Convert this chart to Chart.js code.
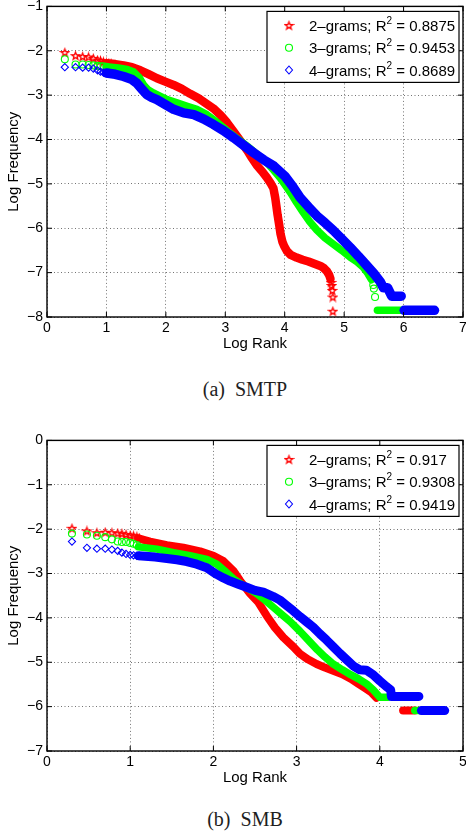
<!DOCTYPE html>
<html>
<head>
<meta charset="utf-8">
<script src="https://cdn.jsdelivr.net/npm/chart.js@4.4.0/dist/chart.umd.min.js"></script>
<style>
  html, body { margin: 0; padding: 0; background: #fff; overflow: hidden; width: 466px; height: 835px; }
  canvas { position: absolute; left: 0; }
  .cap { position: absolute; left: 0; width: 490px; text-align: center; font: 20px "Liberation Serif", serif; line-height: 20px; color: #1e1e1e; white-space: pre; }
</style>
</head>
<body>
<canvas id="smtp" width="472" height="362" style="top:-6px"></canvas>
<div class="cap" style="top:379px">(a)  SMTP</div>
<canvas id="smb" width="472" height="362" style="top:428px"></canvas>
<div class="cap" style="top:809px">(b)  SMB</div>
<script>
// n-gram series names and fit quality shown in the legends
const seriesNames = ['2\u2013grams', '3\u2013grams', '4\u2013grams'];
const smtpR2 = ['0.8875', '0.9453', '0.8689'];
const smbR2 = ['0.917', '0.9308', '0.9419'];

// (a) SMTP  -- [log rank, log frequency]
const smtp2Marks = [[0.30,-2.04],[0.48,-2.11],[0.60,-2.13],[0.70,-2.14],[0.78,-2.17],[0.85,-2.21],[0.90,-2.22],[0.95,-2.25],[1.00,-2.27],[1.04,-2.28],[1.08,-2.29]];
const smtp2Band = [[1.00,-2.28],[1.15,-2.30],[1.29,-2.33],[1.43,-2.37],[1.57,-2.44],[1.70,-2.52],[1.85,-2.62],[2.00,-2.70],[2.13,-2.77],[2.27,-2.86],[2.41,-2.97],[2.55,-3.07],[2.69,-3.20],[2.80,-3.30],[2.92,-3.45],[3.03,-3.62],[3.14,-3.82],[3.25,-4.02],[3.37,-4.25],[3.45,-4.42],[3.53,-4.58],[3.62,-4.72],[3.70,-4.86],[3.77,-5.00],[3.81,-5.10],[3.84,-5.31],[3.86,-5.50],[3.88,-5.70],[3.91,-5.95],[3.93,-6.13],[3.96,-6.30],[3.99,-6.40],[4.04,-6.52],[4.10,-6.60],[4.20,-6.66],[4.30,-6.71],[4.40,-6.75],[4.50,-6.80],[4.60,-6.85],[4.66,-6.90],[4.71,-6.97],[4.75,-7.06],[4.77,-7.14]];
const smtp2Tail = [[4.78,-7.22],[4.79,-7.29],[4.80,-7.40],[4.81,-7.55],[4.81,-7.87]];
const smtp3Marks = [[0.30,-2.19],[0.48,-2.31],[0.60,-2.31],[0.70,-2.32],[0.78,-2.33],[0.85,-2.34],[0.90,-2.35],[0.95,-2.35],[1.00,-2.36]];
const smtp3Band = [[1.00,-2.36],[1.20,-2.39],[1.35,-2.42],[1.46,-2.48],[1.55,-2.60],[1.63,-2.78],[1.70,-2.88],[1.79,-2.95],[1.90,-3.02],[2.02,-3.10],[2.20,-3.18],[2.36,-3.25],[2.52,-3.32],[2.69,-3.44],[2.85,-3.60],[3.03,-3.80],[3.20,-3.98],[3.37,-4.15],[3.55,-4.35],[3.70,-4.52],[3.82,-4.70],[3.92,-4.86],[4.00,-5.01],[4.10,-5.20],[4.20,-5.42],[4.30,-5.62],[4.42,-5.85],[4.54,-6.04],[4.68,-6.22],[4.82,-6.36],[4.96,-6.50],[5.10,-6.65],[5.22,-6.76],[5.32,-6.88],[5.40,-7.02],[5.46,-7.16]];
const smtp3Tail = [[5.49,-7.28],[5.50,-7.36],[5.52,-7.55]];
const smtp3Floor = [[5.56,-7.85],[6.00,-7.85]];
const smtp4Marks = [[0.30,-2.37],[0.48,-2.37],[0.60,-2.38],[0.70,-2.38],[0.78,-2.40],[0.85,-2.44],[0.90,-2.47],[0.95,-2.49],[1.00,-2.50],[1.04,-2.50]];
const smtp4Band = [[1.00,-2.50],[1.15,-2.53],[1.29,-2.58],[1.42,-2.64],[1.51,-2.73],[1.60,-2.87],[1.68,-2.99],[1.76,-3.05],[1.85,-3.10],[2.00,-3.22],[2.13,-3.32],[2.30,-3.40],[2.47,-3.44],[2.64,-3.54],[2.80,-3.66],[2.97,-3.80],[3.14,-3.96],[3.30,-4.12],[3.48,-4.30],[3.65,-4.46],[3.82,-4.60],[4.00,-4.82],[4.13,-5.05],[4.26,-5.31],[4.40,-5.52],[4.54,-5.72],[4.68,-5.88],[4.82,-6.05],[4.96,-6.24],[5.10,-6.43],[5.24,-6.63],[5.38,-6.84],[5.50,-7.02],[5.61,-7.21],[5.66,-7.34],[5.73,-7.34],[5.80,-7.53],[5.96,-7.53]];
const smtp4Floor = [[6.01,-7.85],[6.52,-7.85]];

// (b) SMB
const smb2Marks = [[0.30,-1.98],[0.48,-2.04],[0.60,-2.08],[0.70,-2.07],[0.78,-2.08],[0.85,-2.09],[0.90,-2.10],[0.95,-2.12],[1.00,-2.14],[1.04,-2.15],[1.08,-2.17],[1.11,-2.20]];
const smb2Band = [[1.10,-2.21],[1.24,-2.28],[1.44,-2.36],[1.64,-2.42],[1.84,-2.50],[2.00,-2.60],[2.12,-2.72],[2.24,-2.94],[2.32,-3.16],[2.44,-3.45],[2.54,-3.65],[2.64,-3.95],[2.74,-4.22],[2.84,-4.44],[2.96,-4.65],[3.04,-4.81],[3.14,-4.94],[3.24,-5.04],[3.34,-5.12],[3.44,-5.19],[3.55,-5.27],[3.65,-5.37],[3.74,-5.48],[3.82,-5.58],[3.90,-5.68],[3.96,-5.80]];
const smb2Floor = [[4.28,-6.09],[4.42,-6.09]];
const smb3Marks = [[0.30,-2.10],[0.48,-2.12],[0.60,-2.15],[0.70,-2.18],[0.78,-2.23],[0.85,-2.28],[0.90,-2.29],[0.95,-2.29],[1.00,-2.31],[1.04,-2.33],[1.08,-2.36]];
const smb3Band = [[1.10,-2.40],[1.32,-2.45],[1.52,-2.53],[1.72,-2.60],[1.92,-2.68],[2.04,-2.79],[2.16,-2.98],[2.24,-3.12],[2.32,-3.22],[2.42,-3.34],[2.52,-3.45],[2.62,-3.60],[2.72,-3.76],[2.82,-3.92],[2.92,-4.08],[3.04,-4.30],[3.14,-4.50],[3.25,-4.72],[3.34,-4.88],[3.44,-5.04],[3.55,-5.17],[3.65,-5.28],[3.75,-5.38],[3.85,-5.50],[3.92,-5.62],[4.00,-5.79],[4.10,-5.79]];
const smb3Floor = [[4.42,-6.09],[4.50,-6.09]];
const smb4Marks = [[0.30,-2.28],[0.48,-2.42],[0.60,-2.44],[0.70,-2.44],[0.78,-2.46],[0.85,-2.49],[0.90,-2.53],[0.95,-2.56],[1.00,-2.58],[1.04,-2.59],[1.08,-2.60],[1.11,-2.60]];
const smb4Band = [[1.10,-2.60],[1.30,-2.63],[1.44,-2.66],[1.56,-2.69],[1.68,-2.73],[1.80,-2.79],[1.92,-2.87],[2.04,-3.02],[2.12,-3.10],[2.20,-3.17],[2.30,-3.24],[2.40,-3.31],[2.50,-3.38],[2.60,-3.42],[2.72,-3.52],[2.80,-3.60],[2.88,-3.72],[2.96,-3.84],[3.04,-3.97],[3.12,-4.09],[3.20,-4.21],[3.28,-4.36],[3.36,-4.50],[3.44,-4.65],[3.52,-4.80],[3.60,-4.94],[3.68,-5.08],[3.76,-5.17],[3.84,-5.18],[3.92,-5.28],[4.00,-5.42],[4.08,-5.55],[4.13,-5.62],[4.14,-5.77],[4.47,-5.77]];
const smb4Floor = [[4.50,-6.09],[4.78,-6.09]];

const RED = '#ff0000', GREEN = '#00ff00', BLUE = '#0000ff';

Chart.defaults.font.family = '"Liberation Sans", Arial, sans-serif';
Chart.defaults.color = '#000';

// matlab style pentagram marker
function starPath(ctx, cx, cy, R) {
  ctx.beginPath();
  for (let i = 0; i < 10; i++) {
    const a = -Math.PI / 2 + i * Math.PI / 5;
    const rr = i % 2 ? R * 0.42 : R;
    const px = cx + rr * Math.cos(a), py = cy + rr * Math.sin(a);
    if (i) ctx.lineTo(px, py); else ctx.moveTo(px, py);
  }
  ctx.closePath();
}
const starImg = document.createElement('canvas');
starImg.width = starImg.height = 11;
(function () {
  const g = starImg.getContext('2d');
  g.strokeStyle = RED;
  g.lineWidth = 1.3;
  starPath(g, 5.5, 5.9, 4.0);
  g.stroke();
})();

const pts = a => a.map(([x, y]) => ({ x, y }));

function marks(data, color, style, radius, order) {
  return {
    data: pts(data), showLine: false, order,
    pointStyle: style, pointRadius: radius,
    pointBorderColor: color, pointBackgroundColor: 'rgba(0,0,0,0)', pointBorderWidth: 1.1
  };
}
function band(data, color, width, order) {
  return {
    data: pts(data), showLine: true, order,
    borderColor: color, borderWidth: width, pointRadius: 0,
    borderCapStyle: 'round', borderJoinStyle: 'round'
  };
}

function drawLegendMarker(ctx, i, cx, cy) {
  ctx.save();
  ctx.lineWidth = 1.1;
  if (i === 0) {
    ctx.drawImage(starImg, cx - 5.5, cy - 5.5);
  } else if (i === 1) {
    ctx.strokeStyle = GREEN;
    ctx.beginPath(); ctx.arc(cx, cy, 3.5, 0, Math.PI * 2); ctx.stroke();
  } else {
    ctx.strokeStyle = BLUE;
    ctx.beginPath();
    ctx.moveTo(cx, cy - 4); ctx.lineTo(cx + 3.5, cy); ctx.lineTo(cx, cy + 4); ctx.lineTo(cx - 3.5, cy);
    ctx.closePath(); ctx.stroke();
  }
  ctx.restore();
}

// box, inward tick marks and boxed legend (matlab look)
const framePlugin = {
  id: 'frame',
  afterDatasetsDraw(chart, args, opts) {
    const { ctx, chartArea: a, scales: { x, y } } = chart;
    ctx.save();
    ctx.strokeStyle = '#000';
    ctx.lineWidth = 1;
    ctx.beginPath();
    x.ticks.forEach(t => {
      const px = x.getPixelForValue(t.value);
      ctx.moveTo(px, a.bottom); ctx.lineTo(px, a.bottom - 5);
      ctx.moveTo(px, a.top); ctx.lineTo(px, a.top + 5);
    });
    y.ticks.forEach(t => {
      const py = y.getPixelForValue(t.value);
      ctx.moveTo(a.left, py); ctx.lineTo(a.left + 5, py);
      ctx.moveTo(a.right, py); ctx.lineTo(a.right - 5, py);
    });
    ctx.stroke();
    ctx.lineWidth = 1.4;
    ctx.strokeRect(a.left, a.top, a.right - a.left, a.bottom - a.top);

    const w = 192, h = 71;
    const lx = a.right - 4 - w, ly = a.top + 5;
    ctx.fillStyle = '#fff';
    ctx.fillRect(lx, ly, w, h);
    ctx.lineWidth = 1.2;
    ctx.strokeRect(lx, ly, w, h);
    opts.r2.forEach((r, i) => {
      const cy = ly + 14 + i * 22.3;
      drawLegendMarker(ctx, i, lx + 22, cy);
      ctx.fillStyle = '#000';
      ctx.textAlign = 'left';
      ctx.textBaseline = 'alphabetic';
      const by = cy + 5.5;
      let tx = lx + 42;
      const head = seriesNames[i] + '; R';
      ctx.font = '15px "Liberation Sans"';
      ctx.fillText(head, tx, by);
      tx += ctx.measureText(head).width;
      ctx.font = '10px "Liberation Sans"';
      ctx.fillText('2', tx, by - 7);
      tx += ctx.measureText('2').width;
      ctx.font = '15px "Liberation Sans"';
      ctx.fillText(' = ' + r, tx, by);
    });
    ctx.restore();
  }
};

function axes(xMax, yMin, yMax) {
  const grid = { color: 'rgba(0,0,0,0.55)', lineWidth: 1, drawTicks: false };
  const border = { display: false, dash: [1, 2.5] };
  const tickFont = { size: 14 };
  const titleFont = { size: 15 };
  return {
    x: {
      type: 'linear', min: 0, max: xMax, grid, border,
      afterFit: s => { s.height = 39; },
      ticks: { stepSize: 1, font: tickFont, color: '#000', padding: 3, maxRotation: 0 },
      title: { display: true, text: 'Log Rank', font: titleFont, color: '#000', padding: { top: 0, bottom: 3 } }
    },
    y: {
      type: 'linear', min: yMin, max: yMax, grid, border,
      afterFit: s => { s.width = 47; },
      ticks: {
        stepSize: 1, font: tickFont, color: '#000', padding: 4,
        callback: v => v < 0 ? '\u2212' + (-v) : String(v)
      },
      title: { display: true, text: 'Log Frequency', font: titleFont, color: '#000', padding: { top: 5, bottom: 0 } }
    }
  };
}

function makeChart(id, datasets, xMax, yMin, yMax, r2) {
  return new Chart(document.getElementById(id), {
    type: 'scatter',
    data: { datasets },
    options: {
      responsive: false,
      animation: false,
      layout: { padding: { top: 11, right: 9, left: 0, bottom: 0 } },
      scales: axes(xMax, yMin, yMax),
      plugins: { legend: { display: false }, tooltip: { enabled: false }, frame: { r2 } }
    },
    plugins: [framePlugin]
  });
}

makeChart('smtp', [
  marks(smtp2Marks, RED, starImg, 4, 3),
  band(smtp2Band, RED, 8.5, 3),
  marks(smtp2Tail, RED, starImg, 4, 3),
  marks(smtp3Marks, GREEN, 'circle', 3.5, 2),
  band(smtp3Band, GREEN, 7.5, 2),
  marks(smtp3Tail, GREEN, 'circle', 3.5, 2),
  band(smtp3Floor, GREEN, 7.5, 2),
  marks(smtp4Marks, BLUE, 'rectRot', 3.6, 1),
  band(smtp4Band, BLUE, 9.5, 1),
  band(smtp4Floor, BLUE, 9.5, 1)
], 7, -8, -1, smtpR2);

makeChart('smb', [
  marks(smb2Marks, RED, starImg, 4, 3),
  band(smb2Band, RED, 8, 3),
  band(smb2Floor, RED, 8, 3),
  marks(smb3Marks, GREEN, 'circle', 3.5, 2),
  band(smb3Band, GREEN, 7.5, 2),
  band(smb3Floor, GREEN, 7.5, 2),
  marks(smb4Marks, BLUE, 'rectRot', 3.6, 1),
  band(smb4Band, BLUE, 9, 1),
  band(smb4Floor, BLUE, 9, 1)
], 5, -7, 0, smbR2);
</script>
</body>
</html>
